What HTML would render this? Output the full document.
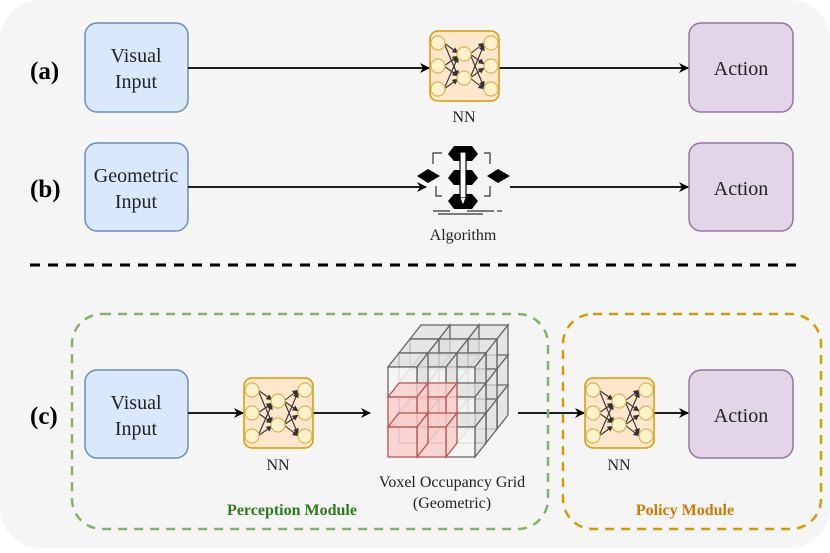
<!DOCTYPE html>
<html><head><style>body{margin:0;background:#fff}svg{display:block;font-family:"Liberation Serif",serif}</style></head><body>
<svg width="830" height="553" viewBox="0 0 830 553" xmlns="http://www.w3.org/2000/svg">
<defs>
<marker id="ar" markerWidth="10" markerHeight="10" refX="9" refY="5" orient="auto" markerUnits="userSpaceOnUse"><path d="M0,0 L10,5 L0,10 L3,5Z" fill="#000"/></marker>
<marker id="sa" markerWidth="6" markerHeight="6" refX="5.5" refY="3" orient="auto" markerUnits="userSpaceOnUse"><path d="M0,0 L6,3 L0,6Z" fill="#333"/></marker>
<g id="nn">
<rect x="0" y="0" width="69" height="70" rx="8" fill="#ffe6cc" stroke="#d79b00" stroke-width="1.5"/>
<g stroke="#333" stroke-width="1.1" marker-end="url(#sa)">
<line x1="14" y1="12" x2="28" y2="22"/><line x1="14" y1="12" x2="28" y2="45"/>
<line x1="14" y1="35" x2="28" y2="25"/><line x1="14" y1="35" x2="28" y2="45"/>
<line x1="14" y1="58" x2="28" y2="26"/><line x1="14" y1="58" x2="28" y2="48"/>
<line x1="40" y1="23" x2="54" y2="12"/><line x1="40" y1="23" x2="54" y2="33"/><line x1="40" y1="23" x2="54" y2="56"/>
<line x1="40" y1="47" x2="54" y2="14"/><line x1="40" y1="47" x2="54" y2="37"/><line x1="40" y1="47" x2="54" y2="58"/>
</g>
<g fill="#fff2cc" stroke="#d6b656" stroke-width="1.2">
<circle cx="8" cy="12" r="7"/><circle cx="8" cy="35" r="7"/><circle cx="8" cy="58" r="7"/>
<circle cx="34" cy="23" r="7"/><circle cx="34" cy="47" r="7"/>
<circle cx="61" cy="12" r="7"/><circle cx="61" cy="35" r="7"/><circle cx="61" cy="58" r="7"/>
</g>
</g>
</defs>
<rect x="0" y="0" width="830" height="548" rx="40" fill="#f5f5f5"/>
<g font-size="20" text-anchor="middle" fill="#222">
<rect x="85" y="23" width="103" height="89" rx="12" fill="#dae8fc" stroke="#6c8ebf" stroke-width="1.5"/>
<text x="136" y="62">Visual</text><text x="136" y="88">Input</text>
<rect x="689" y="23" width="104" height="89" rx="12" fill="#e1d5e7" stroke="#9673a6" stroke-width="1.5"/>
<text x="741" y="75">Action</text>
<rect x="85" y="143" width="103" height="88" rx="12" fill="#dae8fc" stroke="#6c8ebf" stroke-width="1.5"/>
<text x="136" y="182">Geometric</text><text x="136" y="208">Input</text>
<rect x="689" y="143" width="104" height="88" rx="12" fill="#e1d5e7" stroke="#9673a6" stroke-width="1.5"/>
<text x="741" y="195">Action</text>
<rect x="85" y="370" width="103" height="88" rx="12" fill="#dae8fc" stroke="#6c8ebf" stroke-width="1.5"/>
<text x="136" y="409">Visual</text><text x="136" y="435">Input</text>
<rect x="689" y="370" width="104" height="88" rx="12" fill="#e1d5e7" stroke="#9673a6" stroke-width="1.5"/>
<text x="741" y="422">Action</text>
</g>
<g font-size="25" font-weight="bold" fill="#000">
<text x="30" y="79">(a)</text><text x="30" y="197">(b)</text><text x="30" y="424">(c)</text>
</g>
<g stroke="#000" stroke-width="1.8" marker-end="url(#ar)">
<line x1="188" y1="68" x2="429" y2="68"/>
<line x1="498" y1="68" x2="688" y2="68"/>
<line x1="188" y1="187" x2="426" y2="187"/>
<line x1="510" y1="187" x2="688" y2="187"/>
<line x1="188" y1="413" x2="243" y2="413"/>
<line x1="313" y1="413" x2="370" y2="413"/>
<line x1="518" y1="413" x2="584" y2="413"/>
<line x1="654" y1="413" x2="688" y2="413"/>
</g>
<use href="#nn" x="430" y="31"/>
<use href="#nn" x="244" y="378"/>
<use href="#nn" x="585" y="378"/>
<g font-size="16" text-anchor="middle" fill="#222">
<text x="464" y="122">NN</text><text x="278" y="470">NN</text><text x="619" y="470">NN</text>
<text x="463" y="240">Algorithm</text>
<text x="452" y="487">Voxel Occupancy Grid</text><text x="452" y="508">(Geometric)</text>
</g>
<g>
<path d="M448,154 L454,146 L472,146 L478,154 L472,161 L454,161Z" fill="#000"/>
<path d="M448,178 L454,170 L472,170 L478,178 L472,185 L454,185Z" fill="#000"/>
<path d="M448,201 L454,194 L472,194 L478,201 L472,209 L454,209Z" fill="#000"/>
<rect x="460" y="152" width="6" height="46" fill="#fff" stroke="#000" stroke-width="1.2"/>
<path d="M460,198 L463,206 L466,198" fill="#fff" stroke="#000" stroke-width="1.2"/>
<path d="M417,176 L428,169 L440,176 L428,183Z" fill="#000"/>
<path d="M487,176 L498,169 L510,176 L498,183Z" fill="#000"/>
<g stroke="#333" stroke-width="1.2" fill="none">
<path d="M442,153 L433,153 L433,164"/><path d="M484,153 L490,153 L490,164"/>
<path d="M442,196 L436,196 L436,186"/><path d="M484,196 L490,196 L490,186"/>
<line x1="433" y1="211" x2="450" y2="211"/><line x1="467" y1="211" x2="494" y2="211"/><line x1="497" y1="211" x2="502" y2="211"/>
<line x1="438" y1="214" x2="483" y2="214"/>
</g>
</g>
<line x1="30" y1="265" x2="800" y2="265" stroke="#000" stroke-width="3" stroke-dasharray="10,8"/>
<rect x="72" y="314" width="476" height="215" rx="30" fill="none" stroke="#82b366" stroke-width="2.5" stroke-dasharray="9,7"/>
<rect x="563" y="314" width="258" height="215" rx="30" fill="none" stroke="#d79b00" stroke-width="2.5" stroke-dasharray="9,7"/>
<g font-size="16" font-weight="bold" text-anchor="middle">
<text x="292" y="515" fill="#2d7a1a">Perception Module</text>
<text x="685" y="515" fill="#cc7a00">Policy Module</text>
</g>
<g id="layers" stroke-width="1.3"></g>
<script>
(function(){
var g=document.getElementById('layers');var ns='http://www.w3.org/2000/svg';
var W=29,H=30,dx=11,dy=-14;
function poly(pts,fill,op,st){var p=document.createElementNS(ns,'polygon');p.setAttribute('points',pts.map(function(a){return a.join(',')}).join(' '));p.setAttribute('fill',fill);p.setAttribute('fill-opacity',op);p.setAttribute('stroke',st);g.appendChild(p);}
for(var d=2;d>=0;d--){
 var ox=388+d*dx,oy=367+d*dy;
 for(var r=0;r<3;r++){for(var c=2;c>=0;c--){
  var x=ox+c*W,y=oy+r*H;
  var red=(r>=1&&c<=1&&d==0);
  var st=red?'#b85450':'#666';
  var side=red?'#f8cecc':'#dedede';
  var front=red?'#f8cecc':'#f5f5f5';
  poly([[x,y],[x+dx,y+dy],[x+W+dx,y+dy],[x+W,y]],side,red?0.8:0.7,st);
  poly([[x+W,y],[x+W+dx,y+dy],[x+W+dx,y+H+dy],[x+W,y+H]],side,red?0.8:0.7,st);
  poly([[x,y],[x+W,y],[x+W,y+H],[x,y+H]],front,d==0?0.85:0.5,st);
 }}
}
})();
</script>
</svg>
</body></html>
